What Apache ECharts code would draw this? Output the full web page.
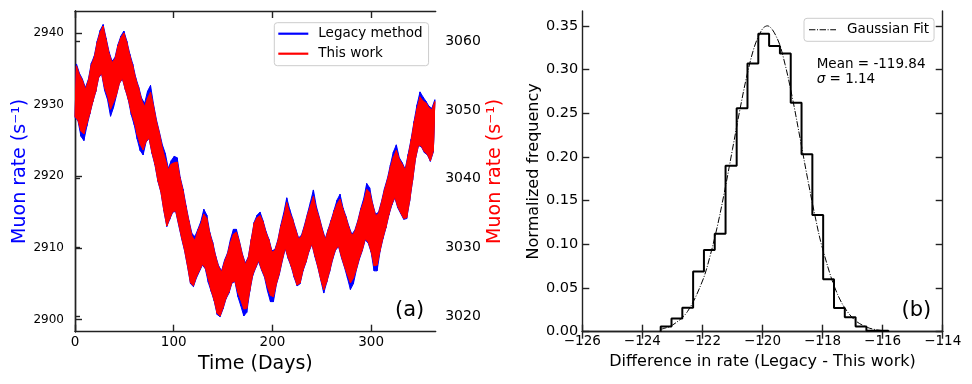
<!DOCTYPE html>
<html>
<head>
<meta charset="utf-8">
<script src="https://cdn.jsdelivr.net/npm/echarts@6/dist/echarts.min.js"></script>
<style>html,body{margin:0;padding:0;background:#fff;}#c{width:972px;height:384px;}</style>
</head>
<body>
<div id="c"></div>
<script>
// ---------- Panel (a): time series, sampled every 3 days (low edge at day, high edge mid-sample) ----------
const sampleDays = [0,3,6,9,12,15,18,21,24,27,30,33,36,39,42,45,48,51,54,57,60,63,66,69,72,75,78,81,84,87,90,93,96,99,102,105,108,111,114,117,120,123,126,129,132,135,138,141,144,147,150,153,156,159,162,165,168,171,174,177,180,183,186,189,192,195,198,201,204,207,210,213,216,219,222,225,228,231,234,237,240,243,246,249,252,255,258,261,264,267,270,273,276,279,282,285,288,291,294,297,300,303,306,309,312,315,318,321,324,327,330,333,336,339,342,345,348,351,354,357,360,363];
const halfStep = 1.5;

// Legacy method (left axis) - lower and upper edges of the fluctuation band
const legacyLow = [2928.2,2927.8,2925.6,2925.0,2927.0,2928.7,2930.4,2931.8,2933.8,2934.3,
2932.0,2930.7,2928.4,2929.6,2931.3,2933.0,2933.6,2932.1,2930.7,2928.6,
2927.2,2925.2,2923.6,2923.0,2924.8,2925.3,2923.2,2921.6,2919.3,2917.8,
2915.2,2913.0,2914.0,2915.0,2915.1,2913.2,2911.3,2909.6,2907.4,2905.0,
2904.6,2905.8,2906.7,2907.6,2907.1,2905.2,2903.9,2902.6,2900.7,2900.4,
2901.5,2902.9,2903.7,2905.1,2905.3,2903.2,2901.9,2900.5,2901.0,2903.9,
2906.1,2907.2,2908.1,2906.9,2905.9,2904.0,2902.5,2902.5,2904.9,2906.3,
2908.2,2909.9,2908.5,2907.4,2905.9,2904.7,2905.0,2906.8,2908.0,2909.5,
2910.5,2908.8,2907.3,2905.5,2903.7,2905.2,2906.7,2908.4,2909.7,2910.2,
2908.6,2907.3,2905.8,2904.2,2905.0,2906.9,2908.4,2909.6,2911.1,2910.7,
2909.4,2906.8,2906.8,2909.5,2911.3,2912.8,2914.6,2916.0,2917.0,2915.6,
2914.8,2914.0,2914.1,2916.5,2919.4,2922.5,2924.3,2924.1,2923.3,2923.0,
2922.1,2923.4];
const legacyHigh = [2935.7,2934.4,2933.6,2932.4,2933.5,2935.8,2936.8,2938.9,2940.4,2941.2,
2939.3,2937.4,2936.1,2936.6,2938.4,2939.6,2940.3,2938.9,2937.1,2935.7,
2933.8,2932.5,2930.9,2930.2,2931.9,2932.7,2930.1,2927.9,2926.2,2924.4,
2923.2,2921.1,2922.2,2922.8,2922.6,2919.9,2918.2,2915.9,2913.8,2912.0,
2911.6,2912.6,2913.7,2915.4,2914.6,2912.2,2910.8,2908.9,2907.5,2906.8,
2908.3,2909.3,2911.2,2912.6,2912.6,2911.0,2909.2,2907.9,2908.7,2911.2,
2913.6,2914.6,2915.0,2913.8,2912.3,2911.2,2909.6,2909.8,2911.1,2913.2,
2914.9,2917.0,2915.4,2914.1,2912.7,2911.4,2911.8,2913.2,2914.8,2916.4,
2918.1,2915.8,2914.3,2912.7,2911.3,2912.6,2913.9,2915.3,2916.7,2917.5,
2915.6,2914.4,2913.0,2911.9,2912.5,2913.8,2915.5,2916.9,2919.0,2918.4,
2916.2,2914.7,2915.0,2916.5,2918.3,2919.7,2921.6,2923.4,2924.4,2922.6,
2921.9,2921.0,2923.1,2925.2,2927.7,2930.0,2931.8,2931.1,2930.5,2929.8,
2929.5,2930.7];

// This work (right axis)
const thisLow = [3049.0,3048.5,3046.9,3046.5,3048.0,3049.5,3051.2,3052.7,3054.8,3055.3,
3053.2,3052.0,3050.1,3051.1,3052.2,3053.9,3054.6,3053.0,3051.6,3049.7,
3048.3,3046.4,3045.0,3044.2,3045.4,3045.9,3043.8,3042.1,3039.7,3038.1,
3035.4,3033.1,3034.2,3035.2,3035.3,3033.4,3031.4,3029.6,3027.3,3024.8,
3024.4,3025.7,3026.6,3027.5,3027.0,3025.4,3023.7,3022.3,3020.4,3020.0,
3021.2,3022.6,3023.5,3024.9,3025.1,3023.4,3022.3,3021.0,3021.1,3023.7,
3026.0,3027.1,3028.1,3026.8,3025.8,3024.2,3023.0,3022.8,3024.7,3026.2,
3028.2,3029.9,3028.5,3027.3,3025.8,3024.5,3024.8,3026.7,3027.9,3029.5,
3030.5,3028.8,3027.2,3025.3,3023.8,3025.0,3026.6,3028.4,3029.7,3030.2,
3028.6,3027.2,3026.0,3024.8,3025.5,3026.8,3028.4,3029.6,3031.2,3030.8,
3029.4,3027.3,3027.4,3029.5,3031.4,3032.9,3034.8,3036.3,3037.3,3035.9,
3035.0,3034.2,3034.3,3036.8,3039.8,3043.0,3044.9,3044.7,3043.9,3043.5,
3042.6,3044.0];
const thisHigh = [3056.4,3055.1,3054.3,3053.0,3054.2,3056.5,3057.6,3059.8,3061.3,3062.2,
3060.2,3058.2,3056.9,3057.4,3059.3,3060.5,3061.2,3059.8,3057.9,3056.4,
3054.5,3053.1,3051.4,3050.5,3051.7,3052.6,3050.6,3048.3,3046.6,3044.4,
3042.8,3041.3,3042.1,3042.3,3042.4,3040.0,3038.2,3035.8,3033.7,3031.6,
3031.0,3032.4,3033.4,3034.8,3034.2,3032.0,3030.5,3028.6,3027.1,3026.4,
3027.9,3029.0,3030.7,3031.9,3032.2,3030.8,3028.9,3027.5,3028.4,3031.0,
3033.5,3034.3,3034.6,3033.7,3032.1,3031.0,3029.3,3029.5,3030.9,3033.0,
3034.5,3036.5,3035.0,3034.0,3032.5,3031.2,3031.6,3033.0,3034.7,3036.0,
3037.4,3035.5,3034.2,3032.5,3031.1,3032.4,3033.8,3035.2,3036.3,3037.0,
3035.5,3034.3,3032.8,3031.7,3032.3,3033.7,3035.4,3036.6,3038.4,3038.0,
3036.2,3034.6,3034.9,3036.5,3038.3,3039.8,3041.6,3043.1,3044.1,3042.8,
3042.1,3041.2,3043.3,3045.5,3048.1,3050.2,3051.9,3051.3,3051.0,3050.3,
3050.0,3051.2];

const timeTicks = [0,100,200,300];
const leftRateTicks = [2900,2910,2920,2930,2940];
const rightRateTicks = [3020,3030,3040,3050,3060];

// ---------- Panel (b): histogram of differences ----------
const binEdges = [-123.39,-123.03,-122.67,-122.31,-121.95,-121.59,-121.23,-120.86,-120.50,-120.14,-119.78,-119.42,-119.06,-118.70,-118.34,-117.98,-117.62,-117.26,-116.90,-116.54,-116.17,-115.81];
const binHeights = [0.006,0.015,0.0275,0.069,0.0935,0.112,0.19,0.2556,0.307,0.341,0.327,0.3185,0.262,0.203,0.1335,0.060,0.027,0.0165,0.006,0.0012,0.0012];
const fitX = [-123.4,-123,-122.5,-122,-121.75,-121.5,-121.25,-121,-120.75,-120.5,-120.25,-120,-119.84,-119.5,-119.25,-119,-118.75,-118.5,-118.25,-118,-117.5,-117,-116.5,-116];
const fitY = [0.0027,0.0075,0.0230,0.0580,0.0860,0.1211,0.1629,0.2086,0.2545,0.2960,0.3281,0.3466,0.3500,0.3348,0.3061,0.2668,0.2216,0.1754,0.1323,0.0951,0.0426,0.0157,0.0048,0.0012];
const diffTicks = [-126,-124,-122,-120,-118,-116,-114];
const freqTicks = [0,0.05,0.10,0.15,0.20,0.25,0.30,0.35];

// ---------- build ----------
function zigzag(lo, hi) {
  const out = [];
  for (let i = 0; i < sampleDays.length; i++) {
    out.push([sampleDays[i], lo[i]]);
    out.push([sampleDays[i] + halfStep, hi[i]]);
  }
  return out;
}
function bandSeries(name, yIdx, lo, hi, color, anchor, z) {
  return {
    name: name, type: 'custom', xAxisIndex: 0, yAxisIndex: yIdx, silent: true, clip: true, z: z,
    data: [[sampleDays[0], anchor]],
    renderItem: function (params, api) {
      const pts = [];
      for (let i = 0; i < sampleDays.length; i++) pts.push(api.coord([sampleDays[i], lo[i]]));
      for (let i = sampleDays.length - 1; i >= 0; i--) pts.push(api.coord([sampleDays[i] + halfStep, hi[i]]));
      return {type: 'polygon', shape: {points: pts}, style: {fill: color, stroke: color, lineWidth: 1}};
    }
  };
}
function stepData() {
  const out = [[binEdges[0], 0]];
  for (let i = 0; i < binHeights.length; i++) out.push([binEdges[i], binHeights[i]]);
  out.push([binEdges[binEdges.length - 1], binHeights[binHeights.length - 1]]);
  out.push([binEdges[binEdges.length - 1], 0]);
  return out;
}
const FONT = 'DejaVu Sans';
const SPINE = {show: true, lineStyle: {color: '#222', width: 1.4}};
const plain = v => String(v);
const minus = v => (v < 0 ? '\u2212' + Math.abs(v) : String(v));
const DASHDOT_ICON = 'path://M0,0H6.4V1H0Z M8,0H9V1H8Z M10.6,0H17V1H10.6Z M18.6,0H19.6V1H18.6Z M21.2,0H27V1H21.2Z';

const chart = echarts.init(document.getElementById('c'), null, {renderer: 'canvas'});
chart.setOption({
  animation: false,
  backgroundColor: '#fff',
  textStyle: {fontFamily: FONT},
  grid: [
    {left: 75, top: 11, width: 360.7, height: 320.7, containLabel: false},
    {left: 582.3, top: 11, width: 360.4, height: 320.7, containLabel: false}
  ],
  xAxis: [
    {gridIndex: 0, type: 'value', position: 'bottom', min: 0, max: 365.4,
     axisLine: SPINE, splitLine: {show: false},
     axisTick: {inside: true, length: 7, customValues: timeTicks, lineStyle: {color: '#222', width: 1.4}},
     axisLabel: {customValues: timeTicks, fontSize: 13.5, color: '#000', margin: 4, formatter: plain},
     name: 'Time (Days)', nameLocation: 'middle', nameGap: 22,
     nameTextStyle: {fontSize: 19, color: '#000', fontFamily: FONT}},
    {gridIndex: 0, type: 'value', position: 'top', min: 0, max: 365.4,
     axisLine: SPINE, splitLine: {show: false},
     axisTick: {inside: true, length: 7, customValues: timeTicks, lineStyle: {color: '#222', width: 1.4}},
     axisLabel: {show: false}},
    {gridIndex: 1, type: 'value', position: 'bottom', min: -126, max: -114, interval: 2,
     axisLine: SPINE, splitLine: {show: false},
     axisTick: {inside: true, length: 7, customValues: diffTicks, lineStyle: {color: '#222', width: 1.4}},
     axisLabel: {customValues: diffTicks, fontSize: 13.5, color: '#000', margin: 3, formatter: minus},
     name: 'Difference in rate (Legacy - This work)', nameLocation: 'middle', nameGap: 22,
     nameTextStyle: {fontSize: 16, color: '#000', fontFamily: FONT}},
    {gridIndex: 1, type: 'value', position: 'top', min: -126, max: -114, interval: 2,
     axisLine: SPINE, splitLine: {show: false},
     axisTick: {inside: true, length: 7, customValues: diffTicks, lineStyle: {color: '#222', width: 1.4}},
     axisLabel: {show: false}}
  ],
  yAxis: [
    {gridIndex: 0, type: 'value', position: 'left', min: 2898.3, max: 2943.1,
     axisLine: SPINE, splitLine: {show: false},
     axisTick: {inside: true, length: 7, customValues: leftRateTicks, lineStyle: {color: '#222', width: 1.4}},
     axisLabel: {customValues: leftRateTicks, fontSize: 12, color: '#000', margin: 11, formatter: plain},
     name: 'Muon rate (s\u207B\u00B9)', nameLocation: 'middle', nameGap: 45, nameRotate: 90,
     nameTextStyle: {fontSize: 19, color: '#0000ff', fontFamily: FONT}},
    {gridIndex: 0, type: 'value', position: 'right', min: 3017.7, max: 3064.4,
     axisLine: SPINE, splitLine: {show: false},
     axisTick: {inside: false, length: 5, customValues: rightRateTicks, lineStyle: {color: '#222', width: 1.4}},
     axisLabel: {customValues: rightRateTicks, fontSize: 14, color: '#000', margin: 9.5, formatter: plain},
     name: 'Muon rate (s\u207B\u00B9)', nameLocation: 'middle', nameGap: 50, nameRotate: 90,
     nameTextStyle: {fontSize: 19, color: '#ff0000', fontFamily: FONT}},
    {gridIndex: 1, type: 'value', position: 'left', min: 0, max: 0.367,
     axisLine: SPINE, splitLine: {show: false},
     axisTick: {inside: true, length: 7, customValues: freqTicks, lineStyle: {color: '#222', width: 1.4}},
     axisLabel: {customValues: freqTicks, fontSize: 14.5, color: '#000', margin: 4, formatter: v => v.toFixed(2)},
     name: 'Normalized frequency', nameLocation: 'middle', nameGap: 39, nameRotate: 90,
     nameTextStyle: {fontSize: 16, color: '#000', fontFamily: FONT}},
    {gridIndex: 1, type: 'value', position: 'right', min: 0, max: 0.367,
     axisLine: SPINE, splitLine: {show: false},
     axisTick: {inside: true, length: 7, customValues: freqTicks, lineStyle: {color: '#222', width: 1.4}},
     axisLabel: {show: false}}
  ],
  legend: [
    {data: ['Legacy method', 'This work'], orient: 'vertical', left: 274.3, top: 22.7,
     icon: 'rect', itemWidth: 30, itemHeight: 2.2, itemGap: 4,
     textStyle: {fontSize: 13.5, color: '#000', fontFamily: FONT, lineHeight: 16, padding: [0, 0, 0, 5]},
     padding: [3, 6, 4, 4], borderColor: '#cccccc', borderWidth: 1, borderRadius: 3,
     backgroundColor: 'rgba(255,255,255,0.85)', selectedMode: false, z: 20},
    {data: [{name: 'Gaussian Fit', icon: DASHDOT_ICON}], orient: 'vertical', left: 804, top: 18.3,
     itemWidth: 27, itemHeight: 1.3, itemGap: 4,
     textStyle: {fontSize: 13.5, color: '#000', fontFamily: FONT, lineHeight: 16, padding: [0, 0, 0, 6]},
     padding: [3.5, 5, 3.5, 5], borderColor: '#cccccc', borderWidth: 1, borderRadius: 3,
     backgroundColor: 'rgba(255,255,255,0.85)', selectedMode: false, z: 20}
  ],
  series: [
    bandSeries('Legacy band', 0, legacyLow, legacyHigh, '#0000ff', 2920, 2),
    {name: 'Legacy method', type: 'line', xAxisIndex: 0, yAxisIndex: 0, z: 3,
     data: zigzag(legacyLow, legacyHigh), symbol: 'none', color: '#0000ff',
     lineStyle: {color: '#0000ff', width: 1}, clip: true},
    bandSeries('This work band', 1, thisLow, thisHigh, '#ff0000', 3040, 4),
    {name: 'This work', type: 'line', xAxisIndex: 0, yAxisIndex: 1, z: 5,
     data: zigzag(thisLow, thisHigh), symbol: 'none', color: '#ff0000',
     lineStyle: {color: '#ff0000', width: 1}, clip: true},
    {name: 'Histogram', type: 'line', xAxisIndex: 2, yAxisIndex: 2, z: 3,
     data: stepData(), step: 'end', symbol: 'none', color: '#000',
     lineStyle: {color: '#000', width: 2}},
    {name: 'Gaussian Fit', type: 'line', xAxisIndex: 2, yAxisIndex: 2, z: 4,
     data: fitX.map((x, i) => [x, fitY[i]]), smooth: 0.35, symbol: 'none', color: '#000',
     lineStyle: {color: '#000', width: 1, type: [6.4, 1.6, 1, 1.6]}}
  ],
  graphic: [
    {type: 'text', left: 816.7, top: 57.5,
     style: {text: 'Mean = -119.84', font: '13.5px "DejaVu Sans"', fill: '#000'}},
    {type: 'text', left: 816.7, top: 72,
     style: {text: '{i|\u03C3} = 1.14', font: '13.5px "DejaVu Sans"', fill: '#000',
             rich: {i: {fontStyle: 'italic', fontSize: 13.5, fontFamily: FONT}}}},
    {type: 'text', left: 395, top: 300,
     style: {text: '(a)', font: '21px "DejaVu Sans"', fill: '#000'}},
    {type: 'text', left: 901.5, top: 300,
     style: {text: '(b)', font: '21px "DejaVu Sans"', fill: '#000'}}
  ]
});
</script>
</body>
</html>
